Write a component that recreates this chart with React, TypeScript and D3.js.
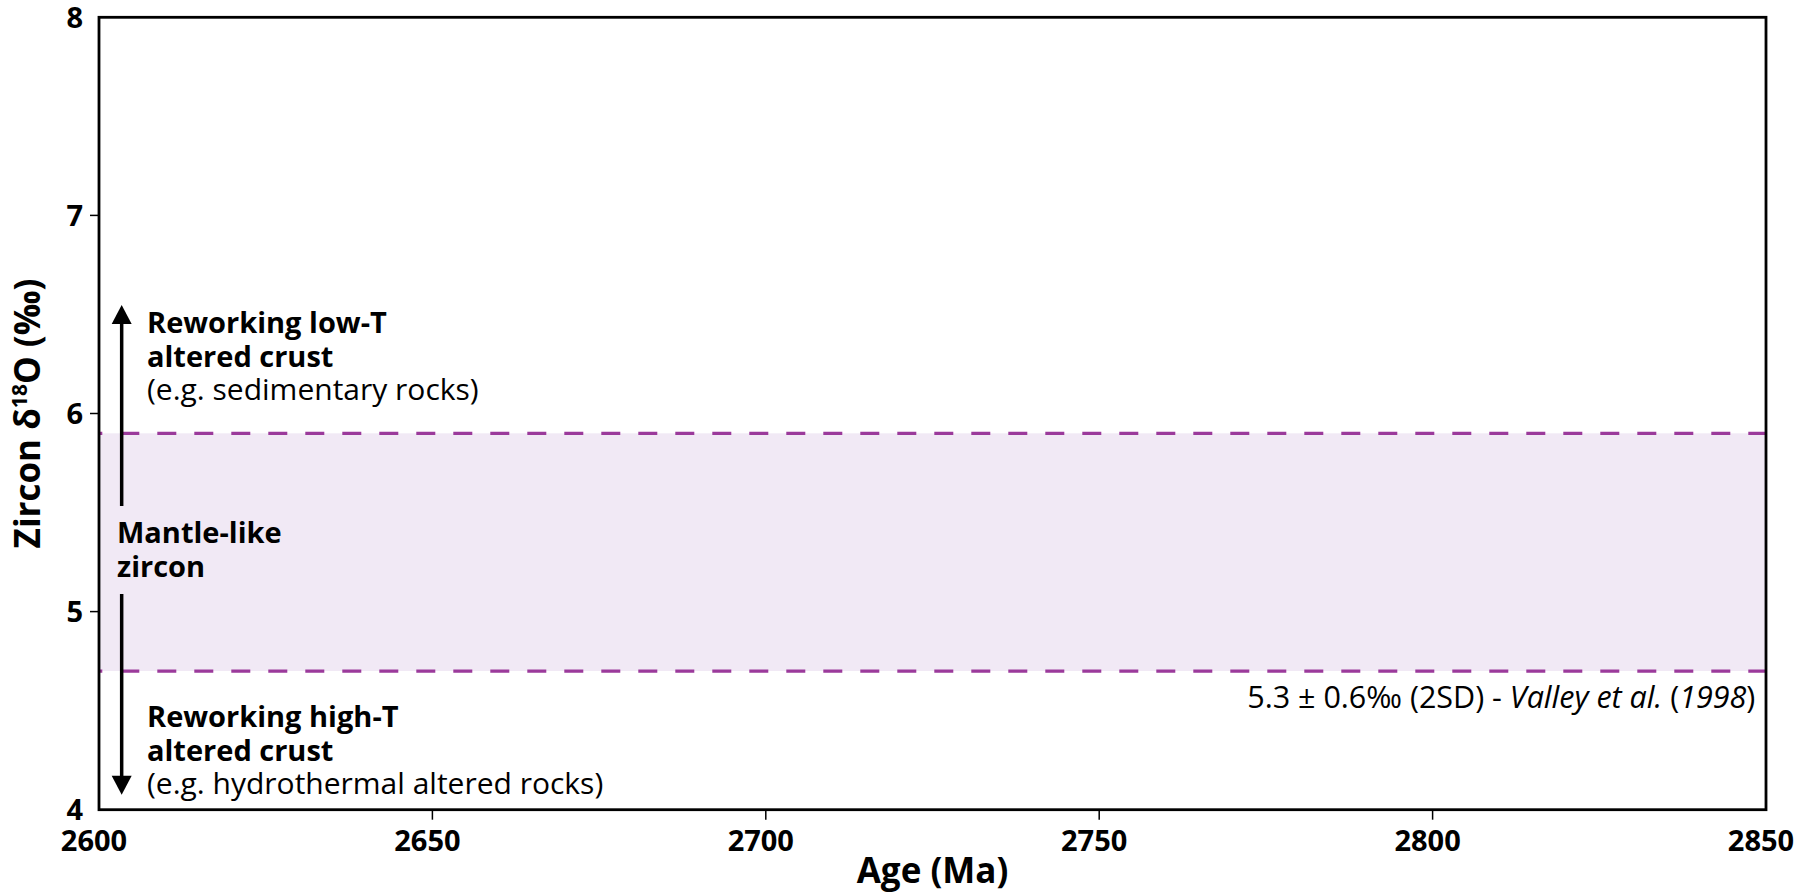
import React from "react";
import * as d3 from "d3";

const xTicks = [2600, 2650, 2700, 2750, 2800, 2850];
const yTicks = [4, 5, 6, 7, 8];
const xDomain = [2600, 2850];
const yDomain = [4, 8];
const mantleBand = [4.7, 5.9];
const upArrow = [5.533, 6.548];
const downArrow = [5.089, 4.075];
const arrowAge = 2603.4;
const upperLabel = ["Reworking low-T", "altered crust", "(e.g. sedimentary rocks)"];
const middleLabel = ["Mantle-like", "zircon"];
const lowerLabel = ["Reworking high-T", "altered crust", "(e.g. hydrothermal altered rocks)"];

const W = 1806;
const H = 892;
const M = { left: 99, right: 1766, top: 17.3, bottom: 809.7 };
const FONT = "'Open Sans', 'Noto Sans', sans-serif";
const PURPLE = "#9b3a9b";
const BAND = "#f1e9f5";

export default function App() {
  const x = d3.scaleLinear().domain(xDomain).range([M.left, M.right]);
  const y = d3.scaleLinear().domain(yDomain).range([M.bottom, M.top]);
  const ax = x(arrowAge);
  const textX = x(2607.2);
  const head = 19;
  const hw = 10;

  const lineY = (base: number, i: number, step: number) => base + i * step;

  return (
    <svg
      width={W}
      height={H}
      style={{ position: "absolute", left: 0, top: 0, display: "block", background: "#fff" }}
      fontFamily={FONT}
    >
      {/* mantle band */}
      <rect
        x={x(xDomain[0])}
        y={y(mantleBand[1])}
        width={x(xDomain[1]) - x(xDomain[0])}
        height={y(mantleBand[0]) - y(mantleBand[1])}
        fill={BAND}
      />
      {mantleBand.map((v) => (
        <line
          key={v}
          x1={x(xDomain[0])}
          x2={x(xDomain[1])}
          y1={y(v)}
          y2={y(v)}
          stroke={PURPLE}
          strokeWidth={3.2}
          strokeDasharray="19 18"
          strokeDashoffset={15.7}
        />
      ))}

      {/* arrows */}
      <line x1={ax} x2={ax} y1={y(upArrow[0])} y2={y(upArrow[1]) + head - 1} stroke="#000" strokeWidth={3.5} />
      <path
        d={`M${ax},${y(upArrow[1])} L${ax - hw},${y(upArrow[1]) + head} L${ax + hw},${y(upArrow[1]) + head} Z`}
        fill="#000"
      />
      <line x1={ax} x2={ax} y1={y(downArrow[0])} y2={y(downArrow[1]) - head + 1} stroke="#000" strokeWidth={3.5} />
      <path
        d={`M${ax},${y(downArrow[1])} L${ax - hw},${y(downArrow[1]) - head} L${ax + hw},${y(downArrow[1]) - head} Z`}
        fill="#000"
      />

      {/* side labels */}
      <g fill="#000">
        {upperLabel.map((t, i) => (
          <text
            key={t}
            x={textX}
            y={lineY(333, i, 33.5)}
            fontWeight={i < 2 ? 700 : 400}
            fontSize={i < 2 ? 29 : 30}
          >
            {t}
          </text>
        ))}
        {middleLabel.map((t, i) => (
          <text key={t} x={x(2602.7)} y={lineY(543, i, 34)} fontWeight={700} fontSize={29}>
            {t}
          </text>
        ))}
        {lowerLabel.map((t, i) => (
          <text
            key={t + i}
            x={textX}
            y={lineY(727, i, 33.5)}
            fontWeight={i < 2 ? 700 : 400}
            fontSize={i < 2 ? 29 : 30}
          >
            {t}
          </text>
        ))}
        <text x={x(2848.4)} y={708} textAnchor="end" fontWeight={400} fontSize={30.5}>
          5.3 ± 0.6‰ (2SD) - <tspan fontStyle="italic">Valley et al.</tspan> (<tspan fontStyle="italic">1998</tspan>)
        </text>
      </g>

      {/* frame */}
      <rect
        x={M.left}
        y={M.top}
        width={M.right - M.left}
        height={M.bottom - M.top}
        fill="none"
        stroke="#000"
        strokeWidth={2.8}
      />

      {/* y ticks */}
      {yTicks.map((t) => (
        <g key={t}>
          {t > yDomain[0] && t < yDomain[1] && (
            <line x1={M.left - 9} x2={M.left} y1={y(t)} y2={y(t)} stroke="#000" strokeWidth={1.5} />
          )}
          <text x={83} y={y(t)} dy="0.36em" textAnchor="end" fontSize={29} fontWeight={700}>
            {t}
          </text>
        </g>
      ))}

      {/* x ticks */}
      {xTicks.map((t) => (
        <g key={t}>
          {t > xDomain[0] && t < xDomain[1] && (
            <line x1={x(t)} x2={x(t)} y1={M.bottom} y2={M.bottom + 10} stroke="#000" strokeWidth={1.5} />
          )}
          <text x={x(t) - 5} y={851} textAnchor="middle" fontSize={29} fontWeight={700}>
            {t}
          </text>
        </g>
      ))}

      {/* axis titles */}
      <text x={(M.left + M.right) / 2} y={883} textAnchor="middle" fontSize={35} fontWeight={700}>
        Age (Ma)
      </text>
      <text
        transform={`translate(40, ${(M.top + M.bottom) / 2}) rotate(-90)`}
        textAnchor="middle"
        fontSize={35}
        fontWeight={700}
      >
        Zircon δ<tspan fontSize={21} dy={-13}>18</tspan>
        <tspan dy={13}>O (‰)</tspan>
      </text>
    </svg>
  );
}
